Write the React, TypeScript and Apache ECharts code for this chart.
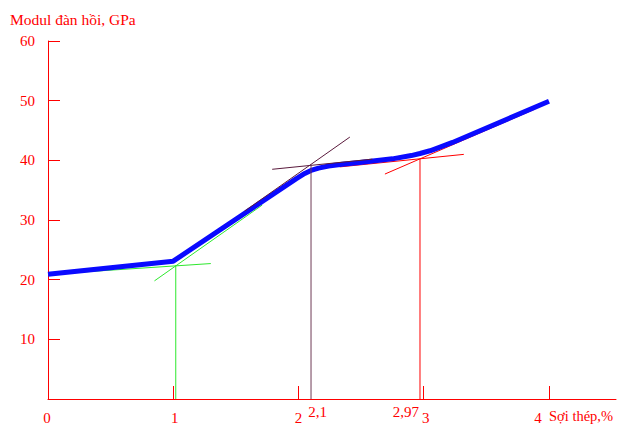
import React, { useEffect, useRef } from "react";
import * as echarts from "echarts";

// ---- data ----
const yTickValues = [10, 20, 30, 40, 50, 60];
const xTickValues = [1, 2, 3, 4];
const xLabelValues = [0, 1, 2, 2.1, 2.97, 3, 4];
const xLabelTexts = ["0", "1", "2", "2,1", "2,97", "3", "4"];

// main curve: Modul đàn hồi vs Sợi thép %
const blueCurve: [number, number][] = [
  [0, 20.9], [1, 23.1], [1.98, 36.9], [2.05, 37.8], [2.1, 38.3], [2.16, 38.7],
  [2.24, 39.05], [2.35, 39.35], [2.49, 39.65], [2.75, 40.25], [2.9, 40.8],
  [2.97, 41.15], [3.05, 41.6], [3.13, 42.2], [3.23, 43.0], [4, 49.9],
];

// tangent construction lines
const greenA: [number, number][] = [[0, 20.9], [1.3, 22.7]];
const greenB: [number, number][] = [[0.85, 19.8], [1.71, 32.5]];
const greenV: [number, number][] = [[1.02, 0], [1.02, 22.4]];

const maroonA: [number, number][] = [[1.79, 38.5], [2.59, 40.2]];
const maroonB: [number, number][] = [[1.57, 31.5], [2.41, 43.9]];
const maroonV: [number, number][] = [[2.1, 0], [2.1, 39.3]];

const redA: [number, number][] = [[2.33, 38.9], [3.32, 41.0]];
const redB: [number, number][] = [[2.69, 37.7], [3.89, 48.6]];
const redV: [number, number][] = [[2.97, 0], [2.97, 40.2]];

const RED = "#ff0000";
const FONT = "'Liberation Serif', 'Times New Roman', serif";

export default function App() {
  const ref = useRef<HTMLDivElement>(null);
  useEffect(() => {
    if (!ref.current) return;
    const chart = echarts.init(ref.current, null, { renderer: "svg" });

    const labelKey = (v: number) =>
      xLabelValues.findIndex((x) => Math.abs(x - v) < 1e-6);
    const richKeys = ["b0", "b1", "b2", "u21", "u297", "b3", "b4"];

    const base = { fontSize: 15, fontFamily: FONT, color: RED, lineHeight: 27 };
    const up = { fontSize: 15, fontFamily: FONT, color: RED, lineHeight: 15 };

    const thin = (data: [number, number][], color: string) => ({
      type: "line",
      data,
      showSymbol: false,
      symbol: "none",
      silent: true,
      lineStyle: { color, width: 1 },
      z: 2,
    });

    chart.setOption({
      animation: false,
      grid: { left: 48, right: 2, top: 41, bottom: 26, containLabel: false },
      xAxis: {
        type: "value",
        min: 0,
        max: 4.535,
        splitLine: { show: false },
        axisLine: { show: true, lineStyle: { color: RED, width: 1 } },
        axisTick: {
          show: true,
          inside: true,
          length: 13,
          customValues: xTickValues,
          lineStyle: { color: RED, width: 1 },
        },
        axisLabel: {
          customValues: xLabelValues,
          margin: 5,
          formatter: (v: number) => {
            const i = labelKey(v);
            if (i < 0) return "";
            return "{" + richKeys[i] + "|" + xLabelTexts[i] + "}";
          },
          rich: {
            b0: { ...base, padding: [0, 2, 0, 0] },
            b1: { ...base, padding: [0, 0, 0, 3] },
            b2: { ...base },
            u21: { ...up, padding: [0, 0, 0, 13] },
            u297: { ...up, padding: [0, 28, 0, 0] },
            b3: { ...base, padding: [0, 0, 0, 4] },
            b4: { ...base, padding: [0, 22, 0, 0] },
          },
        },
      },
      yAxis: {
        type: "value",
        min: 0,
        max: 60,
        interval: 10,
        splitLine: { show: false },
        axisLine: { show: true, lineStyle: { color: RED, width: 1 } },
        axisTick: {
          show: true,
          inside: true,
          length: 12,
          customValues: yTickValues,
          lineStyle: { color: RED, width: 1 },
        },
        axisLabel: {
          customValues: yTickValues,
          margin: 13,
          color: RED,
          fontSize: 15,
          fontFamily: FONT,
        },
      },
      graphic: [
        {
          type: "text",
          left: 10,
          top: 11,
          style: {
            text: "Modul đàn hồi, GPa",
            fill: RED,
            fontSize: 15.5,
            fontFamily: FONT,
          },
        },
        {
          type: "text",
          x: 549,
          y: 415.5,
          style: {
            text: "Sợi thép,%",
            fill: RED,
            fontSize: 14.5,
            fontFamily: FONT,
            verticalAlign: "middle",
            align: "left",
          },
        },
      ],
      series: [
        thin(greenA, "#2ee82e"),
        thin(greenB, "#2ee82e"),
        thin(greenV, "#2ee82e"),
        thin(redA, RED),
        thin(redB, RED),
        thin(redV, RED),
        {
          type: "line",
          data: blueCurve,
          showSymbol: false,
          symbol: "none",
          silent: true,
          lineStyle: { color: "#0a0aff", width: 5, cap: "butt", join: "round" },
          z: 3,
        },
        { ...thin(maroonA, "#5a1a3c"), z: 4 },
        { ...thin(maroonB, "#5a1a3c"), z: 4 },
        { ...thin(maroonV, "#6e3a56"), z: 4 },
      ],
    });
    return () => chart.dispose();
  }, []);
  return (
    <div
      ref={ref}
      style={{ position: "fixed", left: 0, top: 0, width: 618, height: 425, background: "#fff" }}
    />
  );
}
